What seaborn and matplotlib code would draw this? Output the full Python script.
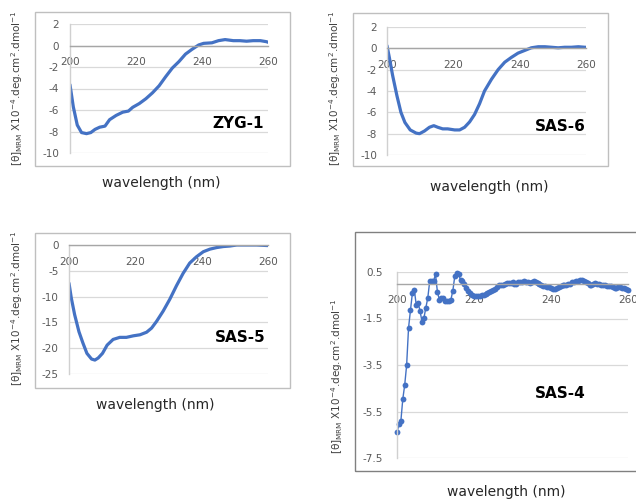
import numpy as np
import pandas as pd
import matplotlib
matplotlib.use("Agg")
import matplotlib.pyplot as plt
from matplotlib.patches import Rectangle
import seaborn as sns

# ---- CD spectra (mean residue ellipticity, x10^-4 deg cm^2 dmol^-1) ----
zyg1_wl = [200, 201, 202.2, 203.5, 205, 206.3, 207.6, 209, 210.6, 212, 214, 216,
           217.7, 219, 221, 223, 225, 227, 229, 231, 233, 235, 237, 239, 240.5,
           243, 245, 247, 249.5, 251.5, 253.5, 255.5, 257.7, 259.6, 260]
zyg1_val = [-3.65, -5.7, -7.4, -8.1, -8.2, -8.1, -7.8, -7.6, -7.5, -6.9, -6.5, -6.2,
            -6.1, -5.75, -5.4, -4.95, -4.4, -3.75, -2.9, -2.1, -1.5, -0.8, -0.35,
            0.05, 0.2, 0.25, 0.45, 0.55, 0.45, 0.45, 0.4, 0.45, 0.45, 0.35, 0.3]

sas6_wl = [200, 200.7, 201.7, 203, 204.2, 205.4, 207, 208.8, 209.8, 211.3, 212.8,
           214.1, 215.3, 216.8, 218.3, 220.4, 221.9, 223.4, 224.9, 226.4, 227.9,
           229.4, 231.5, 233.5, 235.5, 237.5, 239.5, 241.5, 243.5, 245.6, 247.6,
           249.6, 251.6, 253.6, 255.6, 257.7, 259.7, 260]
sas6_val = [0.25, -0.85, -2.55, -4.45, -6.0, -6.95, -7.65, -7.95, -8.0, -7.75, -7.4,
            -7.25, -7.4, -7.55, -7.55, -7.65, -7.65, -7.4, -6.9, -6.2, -5.2, -4.0,
            -2.9, -2.0, -1.3, -0.85, -0.45, -0.2, 0.05, 0.15, 0.15, 0.1, 0.05, 0.1,
            0.1, 0.15, 0.1, 0.1]

sas5_wl = [200, 200.7, 201.7, 203, 204.2, 205.4, 206.8, 207.8, 208.8, 210.1, 211.5,
           213.3, 215.3, 217.3, 219.4, 221.4, 223.4, 224.9, 226.4, 228.4, 230.4,
           232.4, 234.4, 236.4, 238.4, 240.5, 242.5, 244.5, 246.5, 248.5, 250.6,
           253.6, 256.6, 259.6, 260]
sas5_val = [-7.4, -10.3, -13.5, -16.8, -19.0, -21.0, -22.1, -22.3, -21.9, -21.0,
            -19.4, -18.3, -17.9, -17.9, -17.6, -17.4, -16.9, -16.1, -14.8, -12.8,
            -10.5, -7.9, -5.5, -3.5, -2.3, -1.3, -0.8, -0.5, -0.3, -0.2, 0.0, 0.0,
            0.0, -0.1, -0.1]

sas4_wl = list(np.arange(200, 260.5, 0.5))
sas4_val = [-6.40, -6.05, -5.92, -4.97, -4.36, -3.51, -1.90, -1.14, -0.40, -0.26,
            -0.93, -0.83, -1.19, -1.64, -1.47, -1.03, -0.61, 0.11, 0.11, 0.12,
            0.40, -0.36, -0.69, -0.61, -0.62, -0.74, -0.76, -0.74, -0.69, -0.31,
            0.31, 0.46, 0.40, 0.17, 0.10, 0.00, -0.17, -0.30, -0.40, -0.47,
            -0.52, -0.55, -0.55, -0.53, -0.50, -0.47, -0.45, -0.42, -0.38, -0.32,
            -0.28, -0.22, -0.14, -0.08, -0.07, -0.04, 0.00, 0.02, 0.04, 0.03,
            0.05, -0.01, 0.00, 0.05, 0.07, 0.09, 0.11, 0.08, 0.06, 0.04,
            0.08, 0.10, 0.09, 0.04, -0.02, -0.07, -0.10, -0.12, -0.14, -0.16,
            -0.18, -0.21, -0.22, -0.20, -0.15, -0.10, -0.06, -0.05, -0.08, -0.03,
            0.00, 0.05, 0.07, 0.10, 0.12, 0.17, 0.15, 0.11, 0.07, 0.02,
            -0.04, -0.06, -0.02, 0.01, 0.00, -0.03, -0.05, -0.04, -0.06, -0.09,
            -0.10, -0.12, -0.16, -0.19, -0.18, -0.15, -0.14, -0.17, -0.20, -0.23,
            -0.26]

x_ticks = [200, 220, 240, 260]
ticks_zyg1 = [-10, -8, -6, -4, -2, 0, 2]
ticks_sas6 = [-10, -8, -6, -4, -2, 0, 2]
ticks_sas5 = [-25, -20, -15, -10, -5, 0]
ticks_sas4 = [-7.5, -5.5, -3.5, -1.5, 0.5]

BLUE = "#4472C4"
W, H = 636, 499

sns.set_theme(style="white")
plt.rcParams["font.family"] = ["DejaVu Sans"]

fig = plt.figure(figsize=(W / 100, H / 100), dpi=100)
fig.patch.set_facecolor("white")


def px_axes(l, t, r, b):
    return fig.add_axes([l / W, 1 - b / H, (r - l) / W, (b - t) / H])


def px_text(x, y, s, **kw):
    fig.text(x / W, 1 - y / H, s, ha="center", va="center", **kw)


def frame(l, t, r, b, color):
    fig.patches.append(Rectangle((l / W, 1 - b / H), (r - l) / W, (b - t) / H,
                                 transform=fig.transFigure, fill=False,
                                 edgecolor=color, lw=1.0, zorder=0))


YLABEL = (r"[$\mathregular{\theta}$]$_{\mathregular{MRM}}$ X10$^{\mathregular{-4}}$"
          r".deg.cm$^{\mathregular{2}}$.dmol$^{\mathregular{-1}}$")


def style_axes(ax, yticks, ylim, ypad, fmt="{:g}"):
    ax.set_xlim(200, 260)
    ax.set_ylim(*ylim)
    ax.set_xticks(x_ticks)
    ax.set_yticks(yticks)
    ax.set_yticklabels([fmt.format(v) for v in yticks])
    ax.set_facecolor("none")
    for s in ("top", "right"):
        ax.spines[s].set_visible(False)
    ax.spines["bottom"].set_position(("data", 0))
    ax.spines["bottom"].set_color("#a6a6a6")
    ax.spines["bottom"].set_linewidth(1.0)
    ax.spines["left"].set_color("#d0d0d0")
    ax.spines["left"].set_linewidth(1.0)
    ax.yaxis.grid(True, color="#d9d9d9", lw=0.9)
    ax.xaxis.grid(False)
    ax.set_axisbelow(True)
    ax.tick_params(axis="x", length=0, pad=8.5, labelsize=7.5, labelcolor="#595959")
    ax.tick_params(axis="y", length=0, pad=ypad, labelsize=7.5, labelcolor="#595959")
    ax.set_xlabel("")
    ax.set_ylabel("")


# ZYG-1
frame(35, 12, 290, 166, "#bfbfbf")
ax1 = px_axes(70, 24, 268, 153)
sns.lineplot(x=zyg1_wl, y=zyg1_val, ax=ax1, color=BLUE, lw=2.3, sort=False)
style_axes(ax1, ticks_zyg1, (-10, 2), 8.0)
px_text(238, 123, "ZYG-1", fontsize=11, fontweight="bold", color="black")
px_text(161, 183, "wavelength (nm)", fontsize=10, color="#262626")
px_text(17, 88, YLABEL, fontsize=7.5, rotation=90, color="#404040")

# SAS-6
frame(353, 13, 608, 166, "#bfbfbf")
ax2 = px_axes(387, 27, 586, 155)
sns.lineplot(x=sas6_wl, y=sas6_val, ax=ax2, color=BLUE, lw=2.3, sort=False)
style_axes(ax2, ticks_sas6, (-10, 2), 7.0)
px_text(560, 127, "SAS-6", fontsize=11, fontweight="bold", color="black")
px_text(489, 187, "wavelength (nm)", fontsize=10, color="#262626")
px_text(335, 88, YLABEL, fontsize=7.5, rotation=90, color="#404040")

# SAS-5
frame(35, 233, 290, 388, "#bfbfbf")
ax3 = px_axes(69, 245, 268, 374)
sns.lineplot(x=sas5_wl, y=sas5_val, ax=ax3, color=BLUE, lw=2.3, sort=False)
style_axes(ax3, ticks_sas5, (-25, 0), 7.5)
px_text(240, 337, "SAS-5", fontsize=11, fontweight="bold", color="black")
px_text(155, 405, "wavelength (nm)", fontsize=10, color="#262626")
px_text(17, 308, YLABEL, fontsize=7.5, rotation=90, color="#404040")

# SAS-4
frame(355, 232, 660, 471, "#808080")
ax4 = px_axes(397, 272, 628, 458)
sns.lineplot(x=sas4_wl, y=sas4_val, ax=ax4, color=BLUE, lw=1.0, sort=False,
             marker="o", markersize=4.2, markeredgewidth=0)
for line in ax4.lines:
    line.set_clip_on(False)
style_axes(ax4, ticks_sas4, (-7.5, 0.5), 10.0)
px_text(560, 393, "SAS-4", fontsize=11, fontweight="bold", color="black")
px_text(506, 492, "wavelength (nm)", fontsize=10, color="#262626")
px_text(337, 376, YLABEL, fontsize=7.5, rotation=90, color="#404040")

fig.savefig("out.png", dpi=100)
